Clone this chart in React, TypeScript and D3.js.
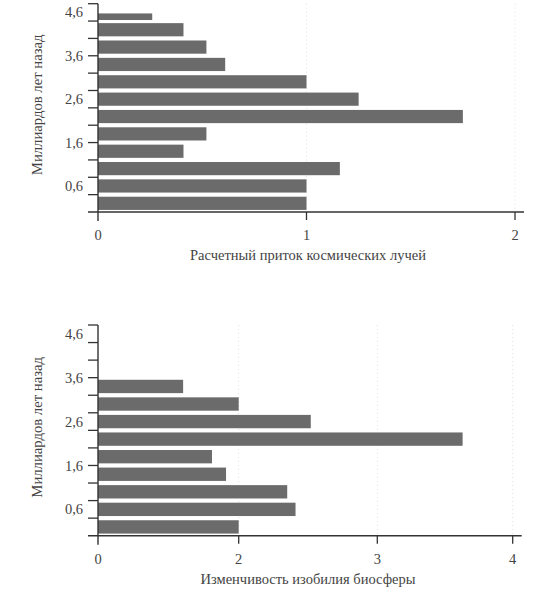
import React, { useEffect, useRef } from "react";
import * as d3 from "d3";

// ages in billions of years (band start / band end)
const fluxBandStart = [0, 0.4, 0.8, 1.2, 1.6, 2.0, 2.4, 2.8, 3.2, 3.6, 4.0, 4.4];
const fluxBandEnd = [0.4, 0.8, 1.2, 1.6, 2.0, 2.4, 2.8, 3.2, 3.6, 4.0, 4.4, 4.6];
const cosmicRayFlux = [1.0, 1.0, 1.16, 0.41, 0.52, 1.75, 1.25, 1.0, 0.61, 0.52, 0.41, 0.26];

const bioBandStart = [0, 0.4, 0.8, 1.2, 1.6, 2.0, 2.4, 2.8, 3.2];
const bioBandEnd = [0.4, 0.8, 1.2, 1.6, 2.0, 2.4, 2.8, 3.2, 3.6];
const biosphereVariability = [2.0, 2.41, 2.35, 1.82, 1.62, 3.63, 2.52, 2.0, 1.21];

const yTickValues = [0.4, 0.8, 1.2, 1.6, 2.0, 2.4, 2.8, 3.2, 3.6, 4.0, 4.4, 4.8];
const yLabelValues = [0.6, 1.6, 2.6, 3.6, 4.6];
const fluxTicks = [0, 1, 2];
const bioTicks = [0, 2, 3, 4];

const yTitle = "Миллиардов лет назад";
const fluxTitle = "Расчетный приток космических лучей";
const bioTitle = "Изменчивость изобилия биосферы";

const FONT = "'Liberation Serif', 'DejaVu Serif', serif";
const BAR = "#6b6b6b";
const INK = "#333";
const TEXT = "#444";

type PanelProps = {
  top: number;
  bottom: number;
  xDomain: number[];
  xRange: number[];
  xTicks: number[];
  starts: number[];
  ends: number[];
  values: number[];
  title: string;
};

const Panel = ({ top, bottom, xDomain, xRange, xTicks, starts, ends, values, title }: PanelProps) => {
  const ref = useRef<SVGGElement>(null);

  useEffect(() => {
    const g = d3.select(ref.current);
    g.selectAll("*").remove();

    const x = d3.scaleLinear().domain(xDomain).range(xRange);
    const y = d3.scaleLinear().domain([0, 4.8]).range([bottom, top]);
    const x0 = x(0);
    const xEnd = xRange[xRange.length - 1] + 9;

    // faint dotted gridlines
    g.append("g")
      .selectAll("line")
      .data(xTicks.filter((d) => d > 0))
      .enter()
      .append("line")
      .attr("x1", (d) => x(d))
      .attr("x2", (d) => x(d))
      .attr("y1", top)
      .attr("y2", bottom)
      .attr("stroke", "#d8d8d8")
      .attr("stroke-width", 0.8)
      .attr("stroke-dasharray", "1,3");

    // bars
    const bars = starts.map((s, i) => ({ s, e: ends[i], v: values[i] }));
    g.append("g")
      .selectAll("rect")
      .data(bars)
      .enter()
      .append("rect")
      .attr("x", x0)
      .attr("y", (d) => y(d.e) + (y(d.s) - y(d.e)) * 0.12)
      .attr("width", (d) => x(d.v) - x0)
      .attr("height", (d) => (y(d.s) - y(d.e)) * 0.76)
      .attr("fill", BAR);

    // y axis
    g.append("line")
      .attr("x1", x0)
      .attr("x2", x0)
      .attr("y1", y(4.8))
      .attr("y2", bottom + 9)
      .attr("stroke", INK)
      .attr("stroke-width", 1.4);

    g.append("g")
      .selectAll("line")
      .data(yTickValues)
      .enter()
      .append("line")
      .attr("x1", x0 - 10)
      .attr("x2", x0)
      .attr("y1", (d) => y(d))
      .attr("y2", (d) => y(d))
      .attr("stroke", INK)
      .attr("stroke-width", 1.3);

    g.append("g")
      .selectAll("text")
      .data(yLabelValues)
      .enter()
      .append("text")
      .attr("x", x0 - 15)
      .attr("y", (d) => y(d))
      .attr("dy", "0.35em")
      .attr("text-anchor", "end")
      .attr("font-family", FONT)
      .attr("font-size", 14.5)
      .attr("fill", TEXT)
      .text((d) => d3.format(".1f")(d).replace(".", ","));

    // x axis
    g.append("line")
      .attr("x1", x0 - 10)
      .attr("x2", xEnd)
      .attr("y1", bottom)
      .attr("y2", bottom)
      .attr("stroke", INK)
      .attr("stroke-width", 1.4);

    g.append("g")
      .selectAll("line")
      .data(xTicks.filter((d) => d > 0))
      .enter()
      .append("line")
      .attr("x1", (d) => x(d))
      .attr("x2", (d) => x(d))
      .attr("y1", bottom)
      .attr("y2", bottom + 8)
      .attr("stroke", INK)
      .attr("stroke-width", 1.3);

    g.append("g")
      .selectAll("text")
      .data(xTicks)
      .enter()
      .append("text")
      .attr("x", (d) => x(d))
      .attr("y", bottom + 28)
      .attr("text-anchor", "middle")
      .attr("font-family", FONT)
      .attr("font-size", 14.5)
      .attr("fill", TEXT)
      .text((d) => String(d));

    // titles
    g.append("text")
      .attr("x", 308)
      .attr("y", bottom + 48)
      .attr("text-anchor", "middle")
      .attr("font-family", FONT)
      .attr("font-size", 14.5)
      .attr("fill", TEXT)
      .text(title);

    g.append("text")
      .attr("transform", `translate(42,${(top + bottom) / 2 - 3}) rotate(-90)`)
      .attr("text-anchor", "middle")
      .attr("font-family", FONT)
      .attr("font-size", 14.7)
      .attr("fill", TEXT)
      .text(yTitle);
  }, []);

  return <g ref={ref} />;
};

const App = () => {
  return (
    <svg
      width={556}
      height={600}
      style={{ position: "absolute", left: 0, top: 0, background: "#fff" }}
    >
      <Panel
        top={3.7}
        bottom={212}
        xDomain={[0, 2]}
        xRange={[98, 515]}
        xTicks={fluxTicks}
        starts={fluxBandStart}
        ends={fluxBandEnd}
        values={cosmicRayFlux}
        title={fluxTitle}
      />
      <Panel
        top={325}
        bottom={535.7}
        xDomain={[0, 2, 3, 4]}
        xRange={[98, 238.7, 377.3, 512.7]}
        xTicks={bioTicks}
        starts={bioBandStart}
        ends={bioBandEnd}
        values={biosphereVariability}
        title={bioTitle}
      />
    </svg>
  );
};

export default App;
